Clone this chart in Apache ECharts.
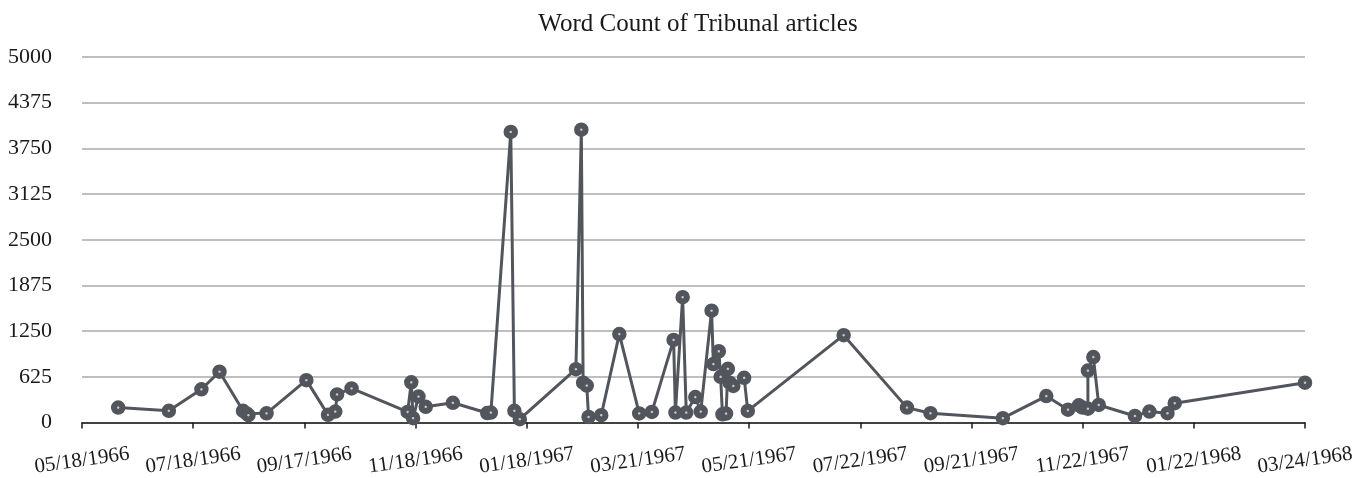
<!DOCTYPE html>
<html>
<head>
<meta charset="utf-8">
<script src="https://cdn.jsdelivr.net/npm/echarts@6/dist/echarts.min.js"></script>
<style>
html,body{margin:0;padding:0;background:#fff;}
#chart{width:1357px;height:478px;}
</style>
</head>
<body>
<div id="chart"></div>
<script>
var startDate = '1966-05-18';
var endDate = '1968-03-24';
var tickLabels = ['05/18/1966','07/18/1966','09/17/1966','11/18/1966','01/18/1967','03/21/1967','05/21/1967','07/22/1967','09/21/1967','11/22/1967','01/22/1968','03/24/1968'];
var yTicks = [0, 625, 1250, 1875, 2500, 3125, 3750, 4375, 5000];
var dates = [
 '1966-06-07','1966-07-05','1966-07-23','1966-08-02','1966-08-15','1966-08-17','1966-08-18','1966-08-28',
 '1966-09-19','1966-10-01','1966-10-05','1966-10-06','1966-10-14','1966-11-14','1966-11-16','1966-11-17',
 '1966-11-20','1966-11-24','1966-12-09','1966-12-28','1966-12-30','1967-01-10','1967-01-12','1967-01-15',
 '1967-02-15','1967-02-18','1967-02-19','1967-02-21','1967-02-22','1967-03-01','1967-03-11','1967-03-22',
 '1967-03-29','1967-04-10','1967-04-11','1967-04-15','1967-04-17','1967-04-22','1967-04-25','1967-05-01',
 '1967-05-02','1967-05-05','1967-05-06','1967-05-07','1967-05-09','1967-05-10','1967-05-11','1967-05-13',
 '1967-05-19','1967-05-21','1967-07-13','1967-08-17','1967-08-30','1967-10-09','1967-11-02','1967-11-14',
 '1967-11-20','1967-11-22','1967-11-25','1967-11-25','1967-11-28','1967-12-01','1967-12-21','1967-12-29',
 '1968-01-08','1968-01-12','1968-03-24'
];
var wordCounts = [
 205,160,455,695,160,125,100,126,
 580,105,150,385,466,145,550,60,
 355,215,270,130,136,3975,160,45,
 730,4005,545,505,77,100,1210,125,
 145,1130,136,1715,136,349,150,1530,
 800,975,625,113,122,735,545,500,
 611,159,1195,204,127,60,362,175,
 235,205,190,710,895,240,90,150,
 127,265,545
];

var DAY = 86400000;
function dayOffset(d){ return (Date.parse(d) - Date.parse(startDate)) / DAY; }
var span = dayOffset(endDate);
var step = span / (tickLabels.length - 1);
var seriesData = dates.map(function(d, i){ return [dayOffset(d), wordCounts[i]]; });

var chart = echarts.init(document.getElementById('chart'), null, {renderer:'canvas'});
var serif = '"Liberation Serif", "DejaVu Serif", serif';
chart.setOption({
  animation:false,
  backgroundColor:'#ffffff',
  title:{
    text:'Word Count of Tribunal articles',
    left: 693, top: 7, textAlign:'center',
    textStyle:{fontFamily:serif, fontSize:25, fontWeight:'normal', color:'#1a1a1a'}
  },
  grid:{left:82, right:52, top:57, bottom:53},
  xAxis:{
    type:'value', min:0, max:span, interval:step,
    axisLine:{show:true, lineStyle:{color:'#1a1a1a', width:1.5}},
    axisTick:{show:true, length:6, lineStyle:{color:'#1a1a1a', width:1.5}},
    splitLine:{show:false},
    axisLabel:{
      rotate:8, align:'center', verticalAlign:'middle', margin:38,
      fontFamily:serif, fontSize:21, color:'#1a1a1a', showMinLabel:true, showMaxLabel:true,
      formatter:function(v){ var i = Math.round(v/step); return tickLabels[i] || ''; }
    }
  },
  yAxis:{
    type:'value', min:yTicks[0], max:yTicks[yTicks.length-1], interval:yTicks[1]-yTicks[0],
    axisLine:{show:false}, axisTick:{show:false},
    splitLine:{show:true, lineStyle:{color:'#bfbfbf', width:2}},
    axisLabel:{margin:30, fontFamily:serif, fontSize:22, color:'#1a1a1a',
      formatter:function(v){ return String(v); }}
  },
  series:[{
    type:'line',
    data:seriesData,
    symbol:'circle',
    symbolSize:8.5,
    showAllSymbol:true,
    lineStyle:{color:'#52565c', width:3},
    itemStyle:{color:'#c8c8c8', borderColor:'#52565c', borderWidth:6}
  }]
});
</script>
</body>
</html>
